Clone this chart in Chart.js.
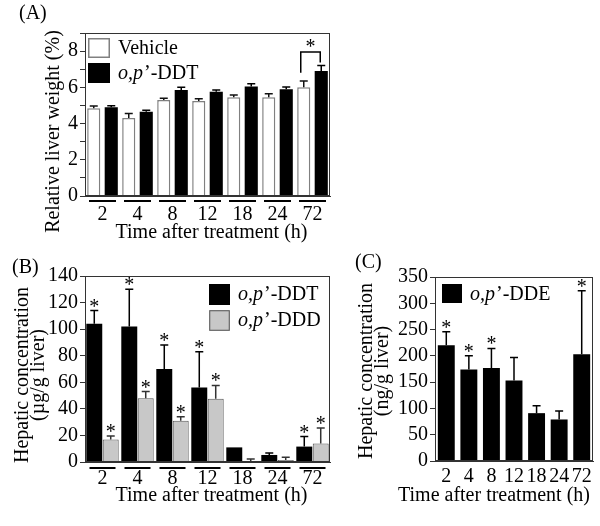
<!DOCTYPE html>
<html>
<head>
<meta charset="utf-8">
<script src="https://cdn.jsdelivr.net/npm/chart.js@4/dist/chart.umd.min.js"></script>
<style>
html,body{margin:0;padding:0;background:#fff;}
#wrap{position:relative;width:600px;height:526px;}
canvas{position:absolute;left:0;top:0;}
</style>
</head>
<body>
<div id="wrap">
  <canvas id="chartA" width="600" height="526"></canvas>
  <canvas id="chartB" width="600" height="526"></canvas>
  <canvas id="chartC" width="600" height="526"></canvas>
</div>
<script>
var hours=['2','4','8','12','18','24','72'];

// (A) relative liver weight (%)
var weightVehicle=[4.85,4.3,5.3,5.25,5.45,5.45,6.0];
var weightVehicleErr=[0.12,0.25,0.1,0.12,0.12,0.2,0.35];
var weightDDT=[4.9,4.65,5.85,5.75,6.05,5.9,6.9];
var weightDDTErr=[0.08,0.08,0.15,0.1,0.15,0.12,0.3];
var weightTicks=[0,2,4,6,8];

// (B) hepatic concentration (ug/g liver)
var concDDT=[104,102,70,56,11,5.3,11.6];
var concDDTErr=[10,28,18,27,0,1.5,7.5];
var concDDTStar=[1,1,1,1,0,0,1];
var concDDD=[17,48,31,47.6,0.8,1.5,14];
var concDDDErr=[2.5,5,3,10,1.5,2,11.5];
var concDDDStar=[1,1,1,1,0,0,1];
var concTicksB=[0,20,40,60,80,100,120,140];

// (C) hepatic concentration (ng/g liver)
var concDDE=[220,174,177,153,91,79,203];
var concDDEErr=[26,26,37,44,14,16,121];
var concDDEStar=[1,1,1,0,0,0,1];
var concTicksC=[0,50,100,150,200,250,300,350];

var SERIF='"Liberation Serif", "Times New Roman", serif';

// o,p in italic, the rest upright
function mixedText(ctx,text,x,y){
  var k=text.indexOf('\u2019');
  ctx.textAlign='left';
  if(k<0){ctx.font='20px '+SERIF;ctx.fillText(text,x,y);return;}
  var it=text.substring(0,k), rest=text.substring(k);
  ctx.font='italic 20px '+SERIF;
  ctx.fillText(it,x,y);
  var w=ctx.measureText(it).width;
  ctx.font='20px '+SERIF;
  ctx.fillText(rest,x+w+1,y);
}

var decor={
  id:'decor',
  afterDatasetsDraw:function(chart,args,opt){
    var ctx=chart.ctx, ys=chart.scales.y;
    ctx.save();
    chart.data.datasets.forEach(function(ds,di){
      var meta=chart.getDatasetMeta(di);
      meta.data.forEach(function(bar,i){
        var top=ys.getPixelForValue(ds.data[i]+ds.err[i]);
        if(ds.err[i]>0){
          ctx.strokeStyle=ds.errColor;ctx.lineWidth=1.5;
          ctx.beginPath();
          ctx.moveTo(bar.x,bar.y);ctx.lineTo(bar.x,top);
          ctx.moveTo(bar.x-4,top);ctx.lineTo(bar.x+4,top);
          ctx.stroke();
        }
        if(ds.star && ds.star[i]){
          ctx.fillStyle='#000';ctx.font='20px '+SERIF;
          ctx.textAlign='center';ctx.textBaseline='alphabetic';
          ctx.fillText('*',bar.x,top+2);
        }
      });
    });
    ctx.restore();
  },
  afterDraw:function(chart,args,opt){
    var ctx=chart.ctx, a=chart.chartArea, xs=chart.scales.x, ys=chart.scales.y;
    ctx.save();
    // frame
    ctx.strokeStyle='#333';ctx.lineWidth=1;
    ctx.strokeRect(a.left+0.5,a.top+0.5,a.right-a.left-1,a.bottom-a.top-1);
    // lines under each group
    if(opt.underline){
      ctx.strokeStyle='#000';ctx.lineWidth=2;
      ctx.beginPath();
      for(var i=0;i<hours.length;i++){
        var c=xs.getPixelForValue(i);
        ctx.moveTo(c-opt.underline,a.bottom+opt.underlineGap);
        ctx.lineTo(c+opt.underline,a.bottom+opt.underlineGap);
      }
      ctx.stroke();
    }
    // significance bracket
    if(opt.bracket!==undefined){
      var j=opt.bracket, d0=chart.data.datasets[0], d1=chart.data.datasets[1];
      var b0=chart.getDatasetMeta(0).data[j], b1=chart.getDatasetMeta(1).data[j];
      var y1=ys.getPixelForValue(d0.data[j]+d0.err[j]+0.45);
      var y2=ys.getPixelForValue(d1.data[j]+d1.err[j]+0.17);
      var yt=ys.getPixelForValue(d1.data[j]+d1.err[j]+0.75);
      ctx.strokeStyle='#000';ctx.lineWidth=1.5;
      ctx.beginPath();
      ctx.moveTo(b0.x-3,y1);ctx.lineTo(b0.x-3,yt);ctx.lineTo(b1.x-1,yt);ctx.lineTo(b1.x-1,y2);
      ctx.stroke();
      ctx.fillStyle='#000';ctx.font='20px '+SERIF;ctx.textAlign='center';ctx.textBaseline='alphabetic';
      ctx.fillText('*',(b0.x+b1.x)/2-2,yt+1);
    }
    // legend
    var lg=opt.legend;
    chart.data.datasets.forEach(function(ds,di){
      var by=lg.y+di*lg.gap;
      ctx.fillStyle=ds.backgroundColor;
      ctx.fillRect(lg.x,by,lg.w,lg.h);
      if(ds.borderWidth){
        ctx.strokeStyle=ds.borderColor;ctx.lineWidth=ds.borderWidth;
        ctx.strokeRect(lg.x+0.75,by+0.75,lg.w-1.5,lg.h-1.5);
      }
      ctx.fillStyle='#000';ctx.textBaseline='alphabetic';
      mixedText(ctx,ds.label,lg.x+lg.w+8,by+16);
    });
    // titles
    ctx.fillStyle='#000';ctx.font='20px '+SERIF;ctx.textBaseline='alphabetic';
    ctx.textAlign='center';
    ctx.fillText(opt.xTitle.text,opt.xTitle.x,opt.xTitle.y);
    opt.yTitle.lines.forEach(function(t,k){
      ctx.save();
      ctx.translate(opt.yTitle.x[k],opt.yTitle.y);
      ctx.rotate(-Math.PI/2);
      ctx.fillText(t,0,0);
      ctx.restore();
    });
    ctx.textAlign='left';
    ctx.fillText(opt.panel.text,opt.panel.x,opt.panel.y);
    ctx.restore();
  }
};

function yAxis(max,step,show){
  return {
    min:0,max:max,
    afterFit:function(s){s.width=45;},
    grid:{drawOnChartArea:false,drawTicks:true,tickLength:5,color:'#333',lineWidth:1},
    border:{display:true,color:'#333',width:1},
    ticks:{stepSize:step,padding:2,autoSkip:false,color:'#000',font:{family:SERIF,size:20},
      callback:function(v){return show.indexOf(v)>=0?v:'';}}
  };
}
function xAxis(height,pad){
  return {
    afterFit:function(s){s.height=height;},
    grid:{display:false,drawTicks:false},
    border:{display:true,color:'#333',width:1},
    ticks:{padding:pad,color:'#000',font:{family:SERIF,size:20},autoSkip:false,maxRotation:0,minRotation:0}
  };
}
function makeChart(id,datasets,scales,padding,decorOpt){
  var ctx=document.getElementById(id).getContext('2d');
  return new Chart(ctx,{
    type:'bar',
    data:{labels:hours,datasets:datasets},
    options:{
      responsive:false,
      animation:false,
      layout:{padding:padding},
      scales:scales,
      plugins:{legend:{display:false},tooltip:{enabled:false},decor:decorOpt}
    },
    plugins:[decor]
  });
}

makeChart('chartA',[
  {label:'Vehicle',data:weightVehicle,err:weightVehicleErr,errColor:'#111',
   backgroundColor:'#fff',borderColor:'#808080',borderWidth:1.5,categoryPercentage:1,barPercentage:0.75},
  {label:'o,p\u2019-DDT',data:weightDDT,err:weightDDTErr,errColor:'#000',
   backgroundColor:'#000',borderColor:'#000',borderWidth:0,categoryPercentage:1,barPercentage:0.75}
],{x:xAxis(48,7),y:yAxis(9,1,weightTicks)},
{left:40,right:270,top:33,bottom:282},
{underline:13.5,underlineGap:5,bracket:6,
 legend:{x:88,y:38,w:22,h:20,gap:25},
 xTitle:{text:'Time after treatment (h)',x:211.5,y:238},
 yTitle:{lines:['Relative liver weight (%)'],x:[59],y:131.5},
 panel:{text:'(A)',x:19,y:19}});

makeChart('chartB',[
  {label:'o,p\u2019-DDT',data:concDDT,err:concDDTErr,star:concDDTStar,errColor:'#000',
   backgroundColor:'#000',borderColor:'#000',borderWidth:0,categoryPercentage:0.94,barPercentage:0.97},
  {label:'o,p\u2019-DDD',data:concDDD,err:concDDDErr,star:concDDDStar,errColor:'#333',
   backgroundColor:'#c8c8c8',borderColor:'#555',borderWidth:1,categoryPercentage:0.94,barPercentage:0.97}
],{x:xAxis(47,5),y:yAxis(140,20,concTicksB)},
{left:40,right:270,top:276,bottom:17},
{underline:13,underlineGap:6,
 legend:{x:209,y:284,w:21,h:21,gap:26},
 xTitle:{text:'Time after treatment (h)',x:211.5,y:501},
 yTitle:{lines:['Hepatic concentration','(\u00b5g/g liver)'],x:[27.5,43.5],y:375},
 panel:{text:'(B)',x:12,y:273}});

makeChart('chartC',[
  {label:'o,p\u2019-DDE',data:concDDE,err:concDDEErr,star:concDDEStar,errColor:'#000',
   backgroundColor:'#000',borderColor:'#000',borderWidth:0,categoryPercentage:1,barPercentage:0.75}
],{x:xAxis(48,4),y:yAxis(350,50,concTicksC)},
{left:390,right:7,top:277,bottom:17},
{legend:{x:442,y:284,w:20,h:19,gap:25},
 xTitle:{text:'Time after treatment (h)',x:494,y:501},
 yTitle:{lines:['Hepatic concentration','(ng/g liver)'],x:[372,388],y:371},
 panel:{text:'(C)',x:355,y:268}});
</script>
</body>
</html>
